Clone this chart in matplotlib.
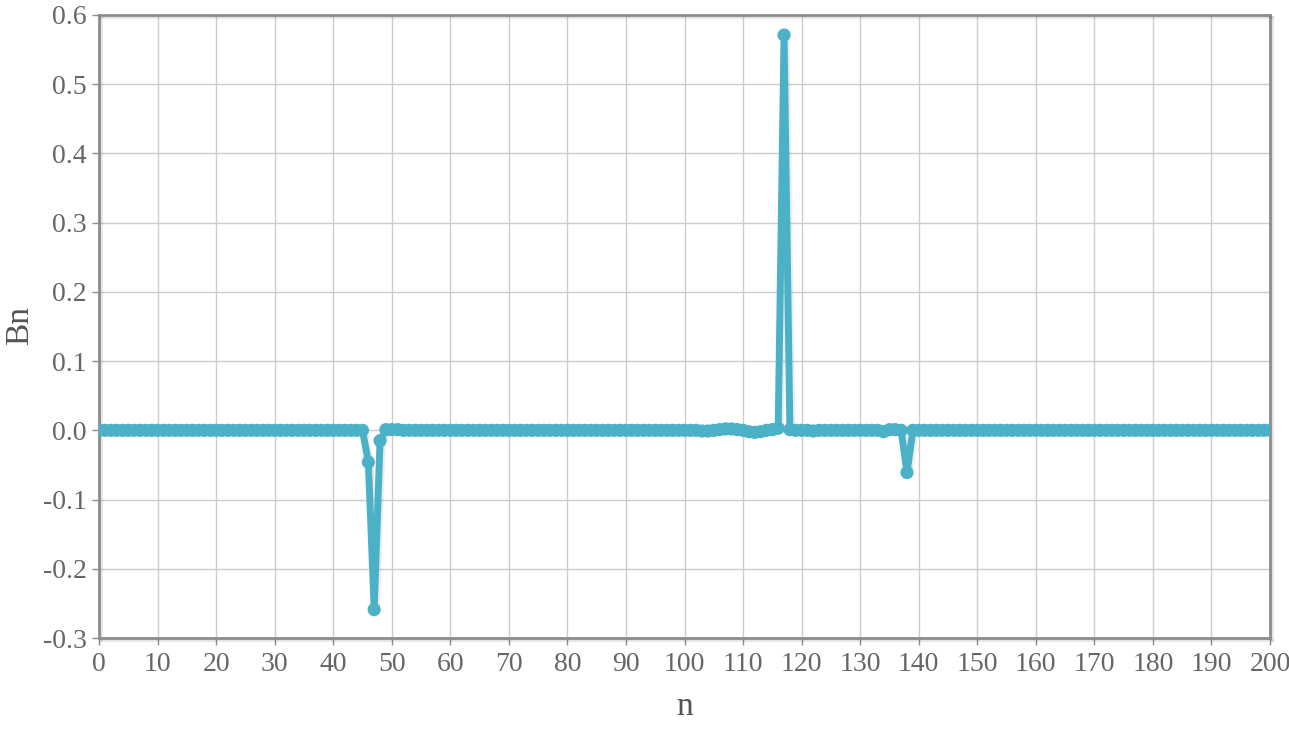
import matplotlib
matplotlib.use("Agg")
import matplotlib.pyplot as plt
import matplotlib.patheffects as pe

n_values = list(range(0, 201))
bn_values = [
    0, 0, 0, 0, 0, 0, 0, 0, 0, 0,
    0, 0, 0, 0, 0, 0, 0, 0, 0, 0,
    0, 0, 0, 0, 0, 0, 0, 0, 0, 0,
    0, 0, 0, 0, 0, 0, 0, 0, 0, 0,
    0, 0, 0, 0, 0, 0, -0.046, -0.259, -0.015, 0.001,
    0.001, 0.001, 0, 0, 0, 0, 0, 0, 0, 0,
    0, 0, 0, 0, 0, 0, 0, 0, 0, 0,
    0, 0, 0, 0, 0, 0, 0, 0, 0, 0,
    0, 0, 0, 0, 0, 0, 0, 0, 0, 0,
    0, 0, 0, 0, 0, 0, 0, 0, 0, 0,
    0, 0, 0, -0.001, -0.001, 0, 0.001, 0.002, 0.002, 0.001,
    0, -0.002, -0.003, -0.002, 0, 0.001, 0.003, 0.571, 0.001, 0,
    0, 0, -0.001, 0, 0, 0, 0, 0, 0, 0,
    0, 0, 0, 0, -0.002, 0.001, 0.001, 0, -0.061, 0,
    0, 0, 0, 0, 0, 0, 0, 0, 0, 0,
    0, 0, 0, 0, 0, 0, 0, 0, 0, 0,
    0, 0, 0, 0, 0, 0, 0, 0, 0, 0,
    0, 0, 0, 0, 0, 0, 0, 0, 0, 0,
    0, 0, 0, 0, 0, 0, 0, 0, 0, 0,
    0, 0, 0, 0, 0, 0, 0, 0, 0, 0,
    0,
]
x_ticks = list(range(0, 201, 10))
y_ticks = [-0.3, -0.2, -0.1, 0.0, 0.1, 0.2, 0.3, 0.4, 0.5, 0.6]
y_tick_labels = ["-0.3", "-0.2", "-0.1", "0.0", "0.1", "0.2", "0.3", "0.4", "0.5", "0.6"]

plt.rcParams['font.family'] = ['Liberation Serif', 'DejaVu Serif']

fig = plt.figure(figsize=(12.89, 7.35), dpi=100)
ax = fig.add_axes([99/1289, 1 - 638/735, (1270 - 99)/1289, (638 - 15)/735])

line_color = "#4bb1c6"
shadow = [pe.SimpleLineShadow(offset=(1.5, -1.5), shadow_color="#000000", alpha=0.08), pe.Normal()]
ax.plot(n_values, bn_values, color=line_color, linewidth=5, marker="o",
        markersize=9.5, markeredgewidth=0, solid_joinstyle="round",
        path_effects=shadow, zorder=3)

ax.set_xlim(0, 200)
ax.set_ylim(-0.3, 0.6)
ax.set_xticks(x_ticks)
ax.set_yticks(y_ticks)
ax.set_yticklabels(y_tick_labels)
ax.grid(True, color="#cccccc", linewidth=1)
ax.set_axisbelow(True)

for s in ax.spines.values():
    s.set_color("#8c8c8c")
    s.set_linewidth(2)
    s.set_path_effects([pe.SimpleLineShadow(offset=(1.5, -1.5), shadow_color="#000000", alpha=0.1), pe.Normal()])

ax.tick_params(axis="both", colors="#8c8c8c", labelcolor="#666666", labelsize=20,
               length=5, width=1, direction="out")
ax.tick_params(axis="x", pad=5)
ax.tick_params(axis="y", pad=4)

ax.set_xlabel("n", fontsize=24, color="#555555")
ax.set_ylabel("Bn", fontsize=24, color="#555555")
ax.xaxis.set_label_coords((685 - 99) / 1171, -(707 - 638) / 623)
ax.yaxis.set_label_coords(-(99 - 20) / 1171, (638 - 326) / 623)
ax.xaxis.label.set_verticalalignment("center")
ax.yaxis.label.set_verticalalignment("center")

fig.savefig("out.png", dpi=100, facecolor="white")
